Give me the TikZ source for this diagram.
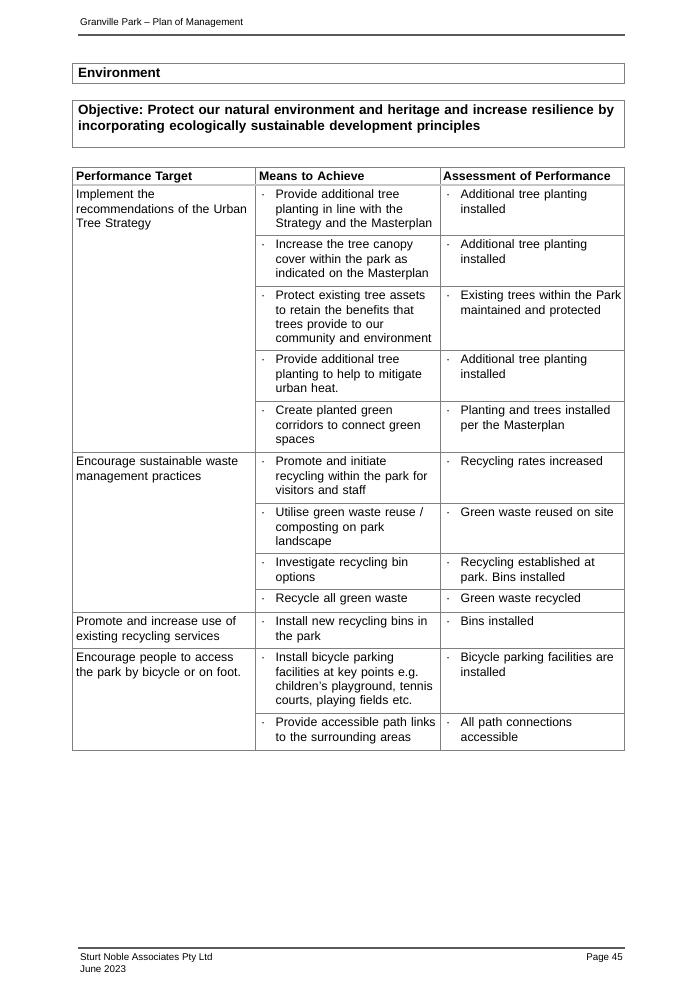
\documentclass[tikz,border=0pt]{standalone}
\usepackage{fontspec}
\setmainfont{Liberation Sans}
\usetikzlibrary{positioning}
\frenchspacing
\newcommand{\pmbul}[1]{\hangindent=14.5pt\hangafter=1\makebox[14.5pt][l]{·}#1\par}
\tikzset{
  cell/.style={anchor=north west, inner sep=0pt, text width=195pt, align=left, font=\fontsize{12.3}{14.4}\selectfont, execute at begin node=\strut},
  headcell/.style={cell, font=\fontsize{12.3}{14.4}\selectfont\bfseries},
  boxtext/.style={anchor=north west, inner sep=0pt, text width=590pt, align=left, font=\fontsize{13.45}{15.5}\selectfont\bfseries, execute at begin node=\strut},
  pagetext/.style={anchor=base west, inner sep=0pt, font=\fontsize{9.8}{12}\selectfont},
  gridline/.style={draw=black!50, line width=0.8pt},
  headline/.style={draw=black!22, line width=2pt},
  pagerule/.style={draw=black!65, line width=1.1pt}
}
\begin{document}
\begin{tikzpicture}[x=1pt, y=-1pt]
    \useasboundingbox (0,0) rectangle (682,989);
    % Page header
    \node[pagetext] (title) at (80,25) {Granville Park -- Plan of Management};
    \draw[pagerule] (78,35) -- (625,35);

    % Section boxes
    \draw[gridline] (72,63) rectangle (624,83);
    \node[boxtext] (env) at (78,66.5) {Environment};
    \draw[gridline] (72,100) rectangle (624,147);
    \node[boxtext] (objective) at (78,103.7) {Objective: Protect our natural environment and heritage and increase resilience by\newline
        incorporating ecologically sustainable development principles};

    % Table grid
    \draw[gridline] (72,167) rectangle (624,750);
    \draw[gridline] (255,167) -- (255,750);
    \draw[gridline] (440,167) -- (440,750);
    \draw[headline] (72.5,185) -- (623.5,185);
    \draw[gridline] (72,452) -- (624,452);
    \draw[gridline] (72,612) -- (624,612);
    \draw[gridline] (72,648) -- (624,648);
    \draw[gridline] (255,235) -- (624,235);
    \draw[gridline] (255,286) -- (624,286);
    \draw[gridline] (255,350) -- (624,350);
    \draw[gridline] (255,401) -- (624,401);
    \draw[gridline] (255,503) -- (624,503);
    \draw[gridline] (255,553) -- (624,553);
    \draw[gridline] (255,589) -- (624,589);
    \draw[gridline] (255,713) -- (624,713);

    % Header row
    \node[headcell] (hdtarget) at (76,170.4) {Performance Target};
    \node[headcell] (hdmeans) at (259,170.4) {Means to Achieve};
    \node[headcell] (hdassess) at (443,170.4) {Assessment of Performance};

    % Performance targets
    \node[cell] (target1) at (76,188.4) {Implement the\newline recommendations of the Urban\newline Tree Strategy};
    \node[cell] (target2) at (76,455.4) {Encourage sustainable waste\newline management practices};
    \node[cell] (target3) at (76,615.4) {Promote and increase use of\newline existing recycling services};
    \node[cell] (target4) at (76,651.4) {Encourage people to access\newline the park by bicycle or on foot.};

    % Means to achieve
    \node[cell] (means1) at (261,188.4) {\pmbul{Provide additional tree\newline planting in line with the\newline Strategy and the Masterplan}};
    \node[cell] (means2) at (261,238.4) {\pmbul{Increase the tree canopy\newline cover within the park as\newline indicated on the Masterplan}};
    \node[cell] (means3) at (261,289.4) {\pmbul{Protect existing tree assets\newline to retain the benefits that\newline trees provide to our\newline community and environment}};
    \node[cell] (means4) at (261,353.4) {\pmbul{Provide additional tree\newline planting to help to mitigate\newline urban heat.}};
    \node[cell] (means5) at (261,404.4) {\pmbul{Create planted green\newline corridors to connect green\newline spaces}};
    \node[cell] (means6) at (261,455.4) {\pmbul{Promote and initiate\newline recycling within the park for\newline visitors and staff}};
    \node[cell] (means7) at (261,506.4) {\pmbul{Utilise green waste reuse /\newline composting on park\newline landscape}};
    \node[cell] (means8) at (261,556.4) {\pmbul{Investigate recycling bin\newline options}};
    \node[cell] (means9) at (261,592.4) {\pmbul{Recycle all green waste}};
    \node[cell] (means10) at (261,615.4) {\pmbul{Install new recycling bins in\newline the park}};
    \node[cell] (means11) at (261,651.4) {\pmbul{Install bicycle parking\newline facilities at key points e.g.\newline children’s playground, tennis\newline courts, playing fields etc.}};
    \node[cell] (means12) at (261,716.4) {\pmbul{Provide accessible path links\newline to the surrounding areas}};

    % Assessment of performance
    \node[cell] (assess1) at (446,188.4) {\pmbul{Additional tree planting\newline installed}};
    \node[cell] (assess2) at (446,238.4) {\pmbul{Additional tree planting\newline installed}};
    \node[cell] (assess3) at (446,289.4) {\pmbul{Existing trees within the Park\newline maintained and protected}};
    \node[cell] (assess4) at (446,353.4) {\pmbul{Additional tree planting\newline installed}};
    \node[cell] (assess5) at (446,404.4) {\pmbul{Planting and trees installed\newline per the Masterplan}};
    \node[cell] (assess6) at (446,455.4) {\pmbul{Recycling rates increased}};
    \node[cell] (assess7) at (446,506.4) {\pmbul{Green waste reused on site}};
    \node[cell] (assess8) at (446,556.4) {\pmbul{Recycling established at\newline park. Bins installed}};
    \node[cell] (assess9) at (446,592.4) {\pmbul{Green waste recycled}};
    \node[cell] (assess10) at (446,615.4) {\pmbul{Bins installed}};
    \node[cell] (assess11) at (446,651.4) {\pmbul{Bicycle parking facilities are\newline installed}};
    \node[cell] (assess12) at (446,716.4) {\pmbul{All path connections\newline accessible}};

    % Page footer
    \draw[pagerule] (78,948) -- (625,948);
    \node[pagetext] (company) at (80,960) {Sturt Noble Associates Pty Ltd};
    \node[pagetext] (date) at (80,972) {June 2023};
    \node[pagetext, anchor=base east] (page) at (623,960) {Page 45};
\end{tikzpicture}
\end{document}
